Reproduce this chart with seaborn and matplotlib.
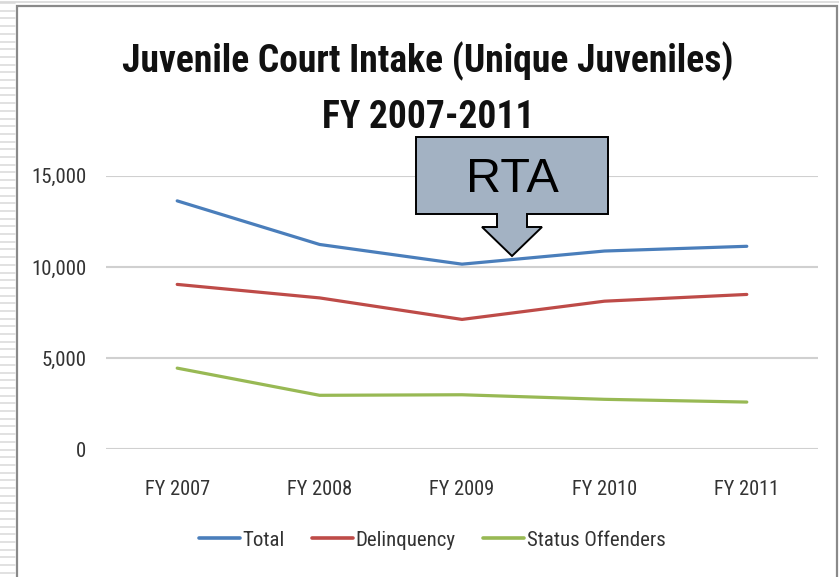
import numpy as np
import pandas as pd
import matplotlib
matplotlib.use("Agg")
import matplotlib.pyplot as plt
import seaborn as sns
from matplotlib.patches import Polygon, Rectangle
from matplotlib.lines import Line2D

# data
years = ["FY 2007", "FY 2008", "FY 2009", "FY 2010", "FY 2011"]
total = [13620, 11230, 10150, 10870, 11130]
delinquency = [9040, 8300, 7120, 8120, 8490]
status_offenders = [4450, 2960, 2990, 2740, 2590]
series_names = ["Total", "Delinquency", "Status Offenders"]
colors = ["#4A7EBB", "#BE4B48", "#98B954"]
y_ticks = [0, 5000, 10000, 15000]

df = pd.DataFrame({
    "year": years * 3,
    "value": total + delinquency + status_offenders,
    "series": [s for s in series_names for _ in years],
})

sns.set_style("white")
FONT = ["Roboto Condensed", "Liberation Sans", "DejaVu Sans"]
plt.rcParams["font.family"] = FONT

W, H = 839, 577
fig = plt.figure(figsize=(W / 100, H / 100), dpi=100)


def fx(px):
    return px / W


def fy(py):
    return 1 - py / H


# striped margin on the left and slide frame
for yy in np.arange(3, H, 7.7):
    fig.add_artist(Line2D([0, fx(15)], [fy(yy), fy(yy)], color="#DCDCDC", lw=1.2))
fig.add_artist(Line2D([0, 1], [fy(1.5), fy(1.5)], color="#D8D8D8", lw=1.2))
fig.add_artist(Rectangle((fx(16.5), -0.01), fx(820.5), fy(5.5) + 0.01,
                         fill=False, edgecolor="#8A8A8A", lw=1.6))

ax = fig.add_axes([fx(106), fy(449.3), fx(712), (449.3 - 175.7) / H])
sns.lineplot(data=df, x="year", y="value", hue="series", palette=colors,
             linewidth=2.3, ax=ax, legend=False, sort=False)

ax.set_xlim(-0.5, len(years) - 0.5)
ax.set_ylim(0, 15000)
ax.set_yticks(y_ticks)
ax.set_yticklabels([f"{v:,}" for v in y_ticks])
ax.set_xlabel("")
ax.set_ylabel("")
for v in y_ticks:
    ax.axhline(v, color="#D0D0D0", lw=1.5, zorder=0)
for s in ax.spines.values():
    s.set_visible(False)
ax.tick_params(axis="y", length=0, pad=14, labelsize=15, labelcolor="#333333")
ax.tick_params(axis="x", length=0, pad=22, labelsize=14.7, labelcolor="#333333")
ax.patch.set_alpha(0)

# title
fig.text(fx(428), fy(72), "Juvenile Court Intake (Unique Juveniles)",
         ha="center", va="baseline", fontsize=27, fontweight="bold", color="#111111")
fig.text(fx(428), fy(128), "FY 2007-2011",
         ha="center", va="baseline", fontsize=27, fontweight="bold", color="#111111")

# legend
handles = [Line2D([0], [0], color=c, lw=2.6) for c in colors]
fig.legend(handles, series_names, loc="center", bbox_to_anchor=(fx(432), fy(540)),
           ncol=3, frameon=False, fontsize=15, handlelength=2.0,
           handletextpad=0.1, columnspacing=1.3, labelcolor="#333333")

# RTA callout arrow
pts = [(416, 137), (608, 137), (608, 214), (527, 214), (527, 227), (542, 227),
       (512, 256), (482, 227), (497, 227), (497, 214), (416, 214)]
fig.add_artist(Polygon([(fx(x), fy(y)) for x, y in pts], closed=True,
                       facecolor="#A3B2C3", edgecolor="black", lw=1.4, zorder=5))
fig.text(fx(512), fy(179), "RTA", ha="center", va="center", fontsize=35,
         family=["Liberation Sans", "DejaVu Sans"], color="black", zorder=6)

fig.savefig("out.png", dpi=100)
